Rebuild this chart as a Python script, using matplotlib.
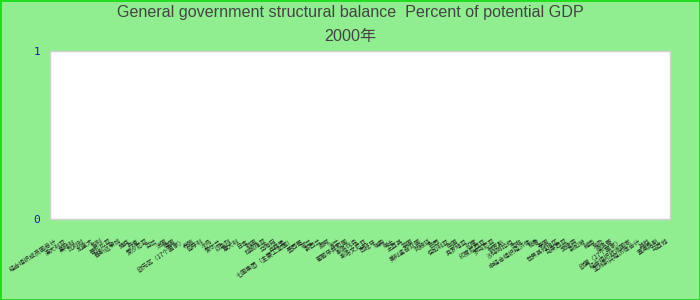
import numpy as np
import matplotlib
matplotlib.use("Agg")
import matplotlib.pyplot as plt

title_line1 = "General government structural balance  Percent of potential GDP"
title_line2 = "2000年"

categories = [
    "经合组织成员国总计", "澳大利亚", "奥地利", "比利时", "加拿大", "智利", "哥伦比亚",
    "哥斯达黎加", "捷克", "丹麦", "爱沙尼亚", "芬兰", "法国", "德国", "欧元区（17个国家）",
    "希腊", "匈牙利", "冰岛", "爱尔兰", "以色列", "意大利", "日本", "韩国", "拉脱维亚",
    "立陶宛", "卢森堡", "七国集团（主要工业国）", "墨西哥", "荷兰", "新西兰", "挪威", "波兰",
    "葡萄牙共和国", "斯洛伐克", "斯洛文尼亚", "西班牙", "瑞典", "瑞士", "土耳其", "英国",
    "美利坚合众国", "阿根廷", "巴西", "保加利亚", "中国", "克罗地亚", "印度", "印度尼西亚",
    "罗马尼亚", "俄罗斯", "沙特阿拉伯", "南非", "非经合组织经济体", "秘鲁", "泰国",
    "世界其他地区", "马来西亚", "菲律宾", "新加坡", "越南", "埃及", "摩洛哥",
    "欧盟（27个国家）", "经合组织欧洲国家", "亚洲新兴经济体合计", "其他", "塞浦路斯", "马耳他",
]
# No data values are shown for the year in the reference (empty chart)
values = [np.nan] * len(categories)
y_ticks = [0, 1]

fig = plt.figure(figsize=(7, 3), dpi=100)
fig.patch.set_facecolor("#90ee90")
fig.patch.set_edgecolor("#22dd22")
fig.patch.set_linewidth(2)

ax = fig.add_axes([50/700, 81/300, 620/700, 168/300])
ax.set_facecolor("white")
x = np.arange(len(categories))
ax.bar(x, values, color="#4472c4")
ax.set_xlim(-0.5, len(categories) - 0.5)
ax.set_ylim(0, 1)
ax.set_yticks(y_ticks)
ax.set_yticklabels([str(v) for v in y_ticks], color="#1a1aaa",
                   family="DejaVu Sans Mono", fontsize=8)
ax.set_xticks(x)
ax.set_xticklabels(categories, rotation=33, ha="right", va="top",
                   rotation_mode="anchor", fontsize=4.4, color="#222222",
                   family=["Noto Sans CJK SC", "DejaVu Sans"])
ax.tick_params(axis="both", length=0)
ax.tick_params(axis="x", pad=13)
ax.tick_params(axis="y", pad=7)
for s in ax.spines.values():
    s.set_color("#d0d0d0")
    s.set_linewidth(1)

fig.text(0.5, 1 - 13/300, title_line1, ha="center", va="center",
         fontsize=11.6, color="#444444", family="Liberation Sans")
fig.text(0.5, 1 - 37/300, title_line2, ha="center", va="center",
         fontsize=11.6, color="#444444",
         family=["Liberation Sans", "Noto Sans CJK SC"])

fig.savefig("out.png", dpi=100, facecolor=fig.get_facecolor(),
            edgecolor=fig.get_edgecolor())
